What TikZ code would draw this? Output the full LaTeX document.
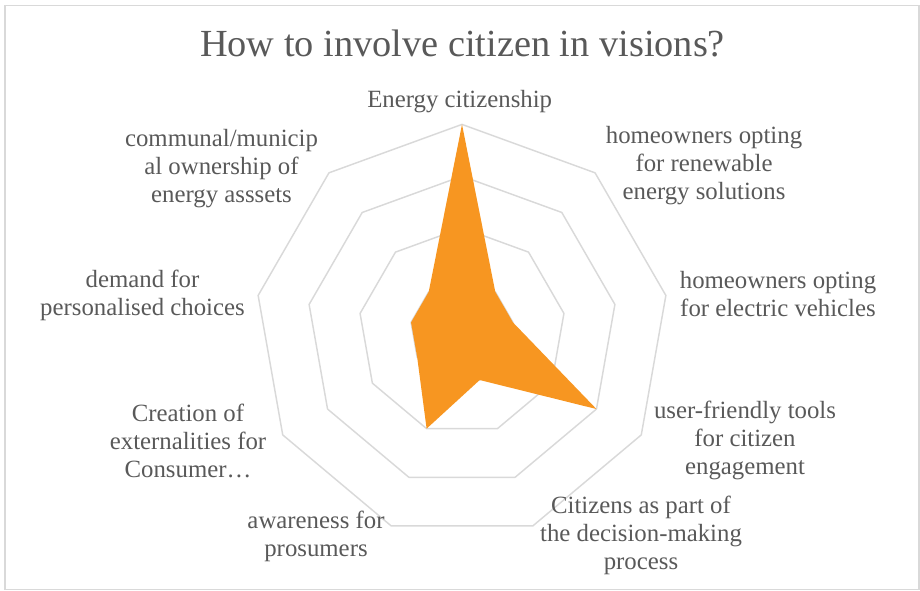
\documentclass[tikz,border=0pt]{standalone}
\usepackage{fontspec}
\setmainfont{Liberation Serif}
\definecolor{gridgray}{RGB}{217,217,217}
\definecolor{txtgray}{RGB}{89,89,89}
\definecolor{radarorange}{RGB}{247,150,33}
\begin{document}
\begin{tikzpicture}[x=0.75pt,y=-0.75pt,
  gridline/.style={draw=gridgray,line width=1.1pt,line join=round},
  lbl/.style={text=txtgray,font=\fontsize{18.6}{21}\selectfont,align=center,inner sep=0pt},
  ttl/.style={text=txtgray,font=\fontsize{28.75}{34}\selectfont,inner sep=0pt}]
\useasboundingbox (0,0) rectangle (920,590);
\draw[gridgray,line width=1.1pt] (5,5.5) rectangle (919,589.5);
\def\cx{462}\def\cy{331.4}\def\R{207}
\foreach \ring in {1,2,3,4}{
  \draw[gridline] ({\cx},{\cy-\ring*\R/4})
    \foreach \k in {1,...,8}{ -- ({\cx+\ring*\R/4*sin(40*\k)},{\cy-\ring*\R/4*cos(40*\k)}) } -- cycle;
}
\foreach \v [count=\k from 0] in {4,1,1,3,1,2,1,1,1}{
  \coordinate (d\k) at ({\cx+\v*\R/4*sin(40*\k)},{\cy-\v*\R/4*cos(40*\k)});
}
\fill[radarorange] (d0) -- (d1) -- (d2) -- (d3) -- (d4) -- (d5) -- (d6) -- (d7) -- (d8) -- cycle;
\node[ttl,anchor=base] (title) at (462.5,56.7) {How to involve citizen in visions?};
\node[lbl] (l0) at (459.7,101.5) {Energy citizenship};
\node[lbl] (l1) at (704,166) {homeowners opting\\for renewable\\energy solutions};
\node[lbl] (l2) at (778,294) {homeowners opting\\for electric vehicles};
\node[lbl] (l3) at (745,440) {user-friendly tools\\for citizen\\engagement};
\node[lbl] (l4) at (641,535) {Citizens as part of\\the decision-making\\process};
\node[lbl] (l5) at (316,536) {awareness for\\prosumers};
\node[lbl] (l6) at (188,440.5) {Creation of\\externalities for\\Consumer…};
\node[lbl] (l7) at (142.5,295) {demand for\\personalised choices};
\node[lbl] (l8) at (221.5,168.5) {communal/municip\\al ownership of\\energy asssets};
\end{tikzpicture}
\end{document}
